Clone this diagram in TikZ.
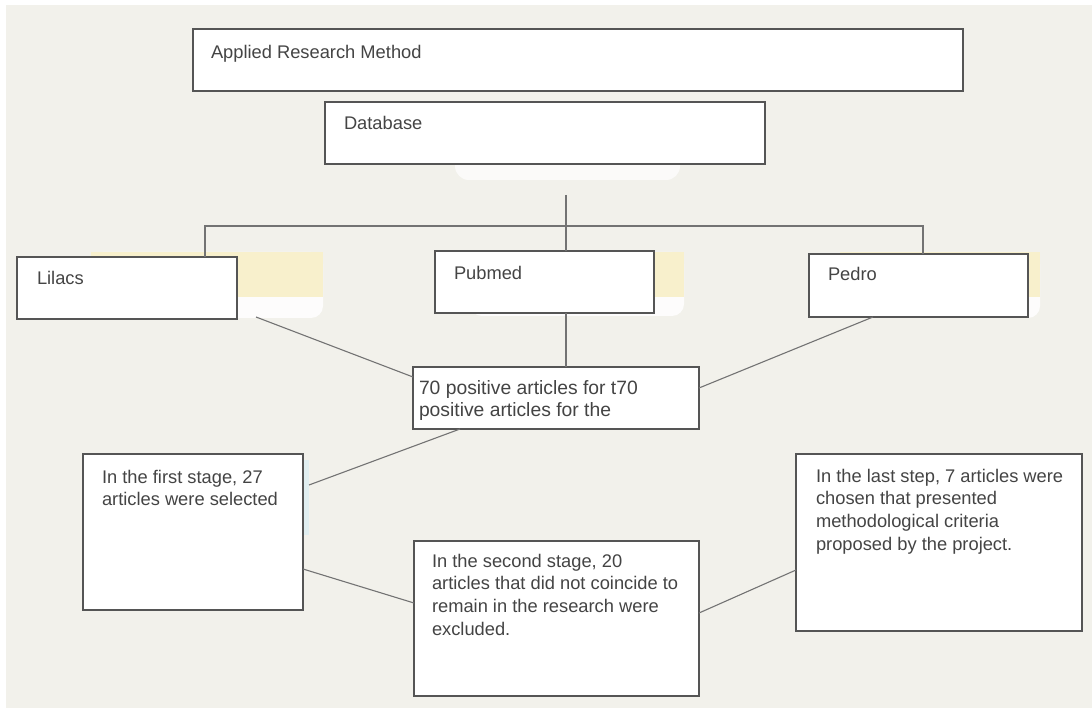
\documentclass[tikz,border=0pt]{standalone}
\usepackage{fontspec}
\setmainfont{Liberation Sans}
\definecolor{bgcol}{RGB}{242,241,235}
\definecolor{boxline}{RGB}{85,85,85}
\definecolor{conline}{RGB}{115,115,115}
\definecolor{txtcol}{RGB}{68,68,68}
\definecolor{ghosty}{RGB}{248,240,204}
\definecolor{ghostc}{RGB}{224,238,240}
% pad, width, height, first-baseline, text
\newcommand\boxtxt[5]{\hspace*{#1}\parbox[t][#3][t]{\dimexpr#2-#1\relax}{\raggedright\rule{0pt}{#4}#5}}
\tikzset{
  stepbox/.style={draw=boxline, line width=1.3pt, fill=white, inner sep=0pt, outer sep=0pt,
    anchor=north west, text=txtcol, font=\fontsize{18.3}{22.7}\selectfont},
  bigtxt/.style={font=\fontsize{19.3}{22.9}\selectfont},
  conn/.style={draw=conline, line width=1.1pt},
}
\begin{document}
\begin{tikzpicture}[x=1pt,y=-1pt]
\useasboundingbox (0,0) rectangle (1092,708);
\fill[white] (0,0) rectangle (1092,708);
\fill[bgcol] (6,5) rectangle (1092,708);
% faint ghost shapes
\fill[white, opacity=0.7, rounded corners=14pt] (455,140) rectangle (680,180);
\fill[white, opacity=0.85, rounded corners=12pt] (91,252) rectangle (323,318);
\fill[ghosty] (91,252) rectangle (323,297);
\fill[white, opacity=0.85, rounded corners=12pt] (470,252) rectangle (684,316);
\fill[ghosty] (470,252) rectangle (684,297);
\fill[white, opacity=0.85, rounded corners=12pt] (840,252) rectangle (1040,318);
\fill[ghosty] (840,252) rectangle (1040,297);
\fill[ghostc] (303,460) rectangle (309,535);
% boxes
\node[stepbox] (app) at (193,29) {\boxtxt{18pt}{770pt}{62pt}{30pt}{Applied Research Method}};
\node[stepbox] (db) at (325,102) {\boxtxt{19pt}{440pt}{62pt}{28pt}{Database}};
\node[stepbox] (lil) at (17,257) {\boxtxt{20pt}{220pt}{62pt}{28pt}{Lilacs}};
\node[stepbox] (pub) at (435,251) {\boxtxt{19pt}{219pt}{62pt}{29pt}{Pubmed}};
\node[stepbox] (ped) at (809,254) {\boxtxt{19pt}{219pt}{63pt}{27pt}{Pedro}};
\node[stepbox, bigtxt] (n70) at (413,367) {\boxtxt{6pt}{286pt}{62pt}{27pt}{70 positive articles for t70\\positive articles for the}};
\node[stepbox] (s1) at (83,454) {\boxtxt{19pt}{220pt}{156pt}{29pt}{In the first stage, 27\\articles were selected}};
\node[stepbox] (s2) at (414,541) {\boxtxt{18pt}{285pt}{155pt}{26pt}{In the second stage, 20\\articles that did not coincide to\\remain in the research were\\excluded.}};
\node[stepbox] (s3) at (796,454) {\boxtxt{20pt}{286pt}{177pt}{28pt}{In the last step, 7 articles were\\chosen that presented\\methodological criteria\\proposed by the project.}};
% connectors
\coordinate (dtop) at (566,195);
\coordinate (hl) at (205,226);
\coordinate (hr) at (923,226);
\coordinate (lilend) at (256,317);
\draw[conn] (dtop) -- (dtop |- pub.north);
\draw[conn] (hl |- lil.north) -- (hl) -- (hr) -- (hr |- ped.north);
\draw[conn] (lilend) -- ([yshift=-10pt]n70.north west);
\draw[conn] (pub.south -| dtop) -- (n70.north -| dtop);
\draw[conn] ([xshift=64pt]ped.south west) -- ([yshift=-21pt]n70.north east);
\draw[conn] ([xshift=47pt]n70.south west) -- ([xshift=6pt,yshift=-31pt]s1.north east);
\draw[conn] ([yshift=-115pt]s1.north east) -- ([yshift=-62pt]s2.north west);
\draw[conn] ([yshift=-72pt]s2.north east) -- ([yshift=-116pt]s3.north west);
\end{tikzpicture}
\end{document}
